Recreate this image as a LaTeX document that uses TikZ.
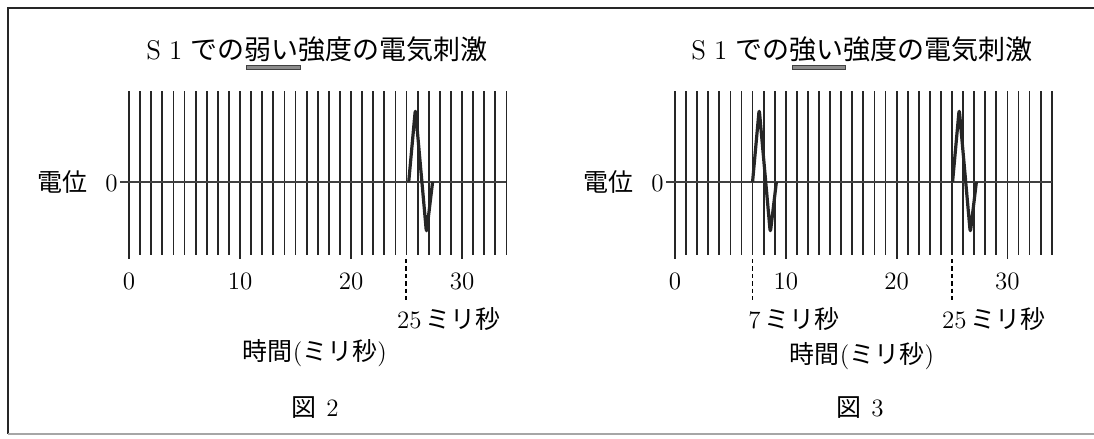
\documentclass[tikz,border=0pt]{standalone}
\usepackage{fontspec}
\newfontfamily\jp{Noto Sans CJK JP}
\begin{document}
\begin{tikzpicture}[x=0.5pt,y=-0.5pt,
  grid/.style={line width=0.9pt,black!85},
  zero/.style={line width=0.7pt,black!75},
  spike/.style={line width=1.6pt,black!85,rounded corners=2pt,line join=round},
  guide/.style={line width=0.9pt,dash pattern=on 2.2pt off 1.5pt},
  lbl/.style={font=\fontsize{12.5}{13}\selectfont,inner sep=0pt},
  ttl/.style={font=\fontsize{13.5}{14}\selectfont,inner sep=0pt},
  ubar/.style={fill=black!45,draw=black!75,line width=0.5pt}]
\useasboundingbox (0,0) rectangle (1094,439);
% frame
\draw[line width=0.8pt,black!85] (1094,8) -- (8,8) -- (8,434);
\draw[line width=0.7pt,black!35] (8,434) -- (1094,434);

% ---------- Figure 2 ----------
\node[ttl] (t2) at (317,49) {S\hspace{0.3em}1\hspace{0.3em}{\jp での弱い強度の電気刺激}};
\draw[ubar] (246,65) rectangle (300,69);
\begin{scope}[shift={(129,0)},xscale=11.1]
  \foreach \i in {0,...,34} {\draw[grid] (\i,91) -- (\i,255);}
  \foreach \i in {0,10,20,30} {\draw[grid] (\i,255) -- (\i,259);
    \node[lbl] (a2\i) at (\i,281) {\i};}
  \draw[zero] (-0.8,182) -- (34,182);
  \draw[spike] (25.2,182) -- (25.8,109) -- (26.8,233) -- (27.35,182);
  \coordinate (d2a) at (25,259);
  \coordinate (d2b) at (25,300);
  \draw[guide] (d2a) -- (d2b);
\end{scope}
\node[lbl,anchor=east] (v2) at (118,182) {{\jp 電位}\hspace{0.7em}0};
\node[lbl] (m2) at (449,319) {25\,{\jp ミリ秒}};
\node[lbl] (x2) at (315,353) {{\jp 時間}({\jp ミリ秒})};
\node[lbl] (f2) at (315,408) {{\jp 図}\hspace{0.4em}2};

% ---------- Figure 3 ----------
\node[ttl] (t3) at (862,49) {S\hspace{0.3em}1\hspace{0.3em}{\jp での強い強度の電気刺激}};
\draw[ubar] (792,65) rectangle (845,69);
\begin{scope}[shift={(675,0)},xscale=11.08]
  \foreach \i in {0,...,34} {\draw[grid] (\i,91) -- (\i,255);}
  \foreach \i in {0,10,20,30} {\draw[grid] (\i,255) -- (\i,259);
    \node[lbl] (a3\i) at (\i,281) {\i};}
  \draw[zero] (-0.8,182) -- (34,182);
  \draw[spike] (7.0,182) -- (7.6,109) -- (8.6,233) -- (9.15,182);
  \draw[spike] (25.05,182) -- (25.65,109) -- (26.65,233) -- (27.2,182);
  \coordinate (d3a) at (7,259);
  \coordinate (d3b) at (7,300);
  \coordinate (d3c) at (25,259);
  \coordinate (d3d) at (25,300);
  \draw[guide] (d3a) -- (d3b);
  \draw[guide] (d3c) -- (d3d);
\end{scope}
\node[lbl,anchor=east] (v3) at (664,182) {{\jp 電位}\hspace{0.7em}0};
\node[lbl] (m3a) at (794,319) {7\,{\jp ミリ秒}};
\node[lbl] (m3b) at (994,319) {25\,{\jp ミリ秒}};
\node[lbl] (x3) at (862,356) {{\jp 時間}({\jp ミリ秒})};
\node[lbl] (f3) at (860,408) {{\jp 図}\hspace{0.4em}3};
\end{tikzpicture}
\end{document}
